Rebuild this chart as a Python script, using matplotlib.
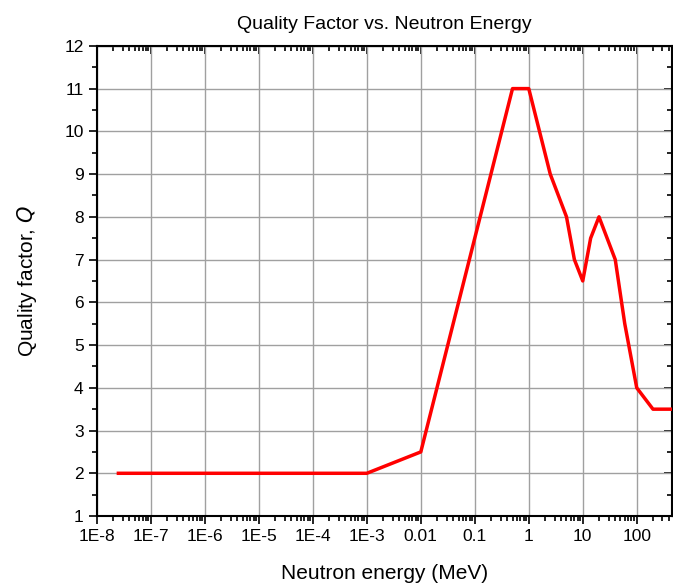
import matplotlib
matplotlib.use('Agg')
from matplotlib import pyplot as plt
from matplotlib.ticker import FixedLocator, LogLocator, MultipleLocator, NullFormatter
import numpy as np

plt.rcParams['font.family'] = ['Liberation Sans', 'DejaVu Sans']

# neutron energy (MeV) and quality factor
energy = [2.5e-8, 1e-3, 0.01, 0.5, 1, 2.5, 5, 7, 10, 14, 20, 40, 60, 100, 200, 450]
quality = [2, 2, 2.5, 11, 11, 9, 8, 7, 6.5, 7.5, 8, 7, 5.5, 4, 3.5, 3.5]
tick_vals = [1e-8, 1e-7, 1e-6, 1e-5, 1e-4, 1e-3, 0.01, 0.1, 1, 10, 100]
tick_labels = ['1E-8', '1E-7', '1E-6', '1E-5', '1E-4', '1E-3', '0.01', '0.1', '1', '10', '100']

fig = plt.figure(figsize=(6.73, 5.88), dpi=100)
ax = fig.add_axes([0.144, 0.1224, 0.8545, 0.7996])

ax.plot(energy, quality, color='red', lw=2.5, zorder=3)

ax.set_xscale('log')
ax.set_xlim(1e-8, 450)
ax.set_ylim(1, 12)
ax.xaxis.set_major_locator(FixedLocator(tick_vals))
ax.set_xticklabels(tick_labels)
ax.xaxis.set_minor_locator(LogLocator(base=10, subs=np.arange(2, 10), numticks=100))
ax.xaxis.set_minor_formatter(NullFormatter())
ax.yaxis.set_major_locator(MultipleLocator(1))
ax.yaxis.set_minor_locator(MultipleLocator(0.5))

ax.grid(True, which='major', color='#a0a0a0', lw=1)
ax.tick_params(axis='both', which='major', labelsize=12.5, length=6, width=1.2, direction='out')
ax.tick_params(axis='both', which='minor', length=3.5, width=1.2, direction='out')
for sp in ax.spines.values():
    sp.set_linewidth(1.5)

# top and right ticks point inward
sec_x = ax.secondary_xaxis('top')
sec_x.set_xscale('log')
sec_x.xaxis.set_major_locator(FixedLocator(tick_vals))
sec_x.xaxis.set_minor_locator(LogLocator(base=10, subs=np.arange(2, 10), numticks=100))
sec_x.tick_params(which='major', direction='in', length=6, width=1.2, labeltop=False)
sec_x.tick_params(which='minor', direction='in', length=3.5, width=1.2)
sec_x.xaxis.set_major_formatter(NullFormatter())
sec_x.xaxis.set_minor_formatter(NullFormatter())
sec_y = ax.secondary_yaxis('right')
sec_y.yaxis.set_major_locator(MultipleLocator(1))
sec_y.yaxis.set_minor_locator(MultipleLocator(0.5))
sec_y.tick_params(which='major', direction='in', length=6, width=1.2, labelright=False)
sec_y.tick_params(which='minor', direction='in', length=3.5, width=1.2)
sec_y.yaxis.set_major_formatter(NullFormatter())

ax.set_xlabel('Neutron energy (MeV)', fontsize=15, labelpad=14)
ax.set_ylabel('Quality factor, $\\mathit{Q}$', fontsize=15, labelpad=18)
ax.set_title('Quality Factor vs. Neutron Energy', fontsize=14, pad=12)

fig.savefig('out.png', dpi=100)
